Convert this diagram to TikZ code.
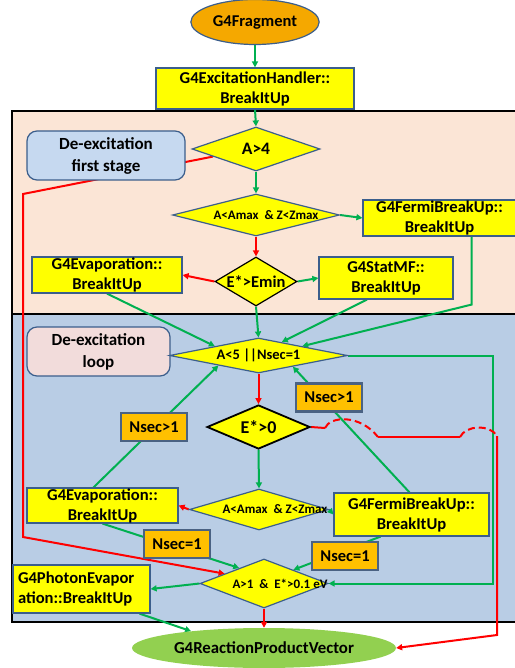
\documentclass[tikz,border=0pt]{standalone}
\usepackage{fontspec}
\setmainfont{Carlito}
\usetikzlibrary{shapes.geometric,arrows.meta}
\pgfdeclarelayer{back}
\pgfdeclarelayer{edges}
\pgfsetlayers{back,edges,main}
\definecolor{boxline}{HTML}{3B5E8C}
\definecolor{nsecline}{HTML}{4A6283}
\definecolor{boxyellow}{HTML}{FFFF00}
\definecolor{fragorange}{HTML}{F5A800}
\definecolor{nsecorange}{HTML}{FFC000}
\definecolor{peach}{HTML}{FBE5D6}
\definecolor{loopblue}{HTML}{B9CDE5}
\definecolor{stageblue}{HTML}{C6D9F0}
\definecolor{looppink}{HTML}{F2DCDB}
\definecolor{edgegreen}{HTML}{00B050}
\definecolor{edgered}{HTML}{FF0000}
\definecolor{rpvgreen}{HTML}{92D050}

\begin{document}
\begin{tikzpicture}[x=1pt,y=-1pt,>={Triangle[length=6pt,width=6pt]}]
  \tikzset{WH/.style 2 args={minimum width=#1pt,minimum height=#2pt}}
  \tikzset{FS/.style={font=\bfseries\fontsize{#1}{#1}\selectfont}}
  \tikzset{BoxStyle/.style={draw=boxline,line width=1.2pt,fill=boxyellow,inner sep=0pt,align=center,font=\bfseries\fontsize{16.6}{20}\selectfont}}
  \tikzset{DiaStyle/.style={diamond,draw=boxline,line width=1.2pt,fill=boxyellow,inner sep=0pt}}
  \tikzset{NsecStyle/.style={draw=nsecline,line width=2.4pt,fill=nsecorange,WH={66}{28},inner sep=0pt,FS=16.5}}
  \tikzset{NoteStyle/.style={rounded corners=10pt,draw=boxline,line width=1.2pt,align=center,font=\bfseries\fontsize{17}{22}\selectfont}}
  \tikzset{GreenEdge/.style={draw=edgegreen,line width=2pt}}
  \tikzset{RedEdge/.style={draw=edgered,line width=2pt}}
  \tikzset{HopEdge/.style={RedEdge,dash pattern=on 7pt off 4pt}}

  \useasboundingbox (0,0) rectangle (514,668);

  \node[ellipse,draw=boxline,line width=1.2pt,fill=fragorange,WH={127}{45},FS=16.5] (Frag) at (255,22) {G4Fragment};
  \node[BoxStyle,WH={198}{41}] (Handler) at (255,88.5) {G4ExcitationHandler::\\BreakItUp};
  \node[NoteStyle,fill=stageblue,WH={158}{49}] (StageOne) at (106,155.5) {De-excitation\\first stage};
  \node[DiaStyle,WH={128}{44},label={[FS=17.5]center:A>4}] (AgtFour) at (256,149) {};
  \node[DiaStyle,WH={167}{42},label={[FS=13,xshift=10pt]center:A<Amax \ \& Z<Zmax}] (ALtMax) at (256,215) {};
  \node[BoxStyle,WH={153}{36}] (Fermi1) at (439.5,218) {G4FermiBreakUp::\\BreakItUp};
  \node[DiaStyle,draw=black,WH={82}{49},label={[FS=16.5]center:E*>Emin}] (EStar) at (256,281.5) {};
  \node[BoxStyle,WH={150}{36}] (Evap1) at (107,275) {G4Evaporation::\\BreakItUp};
  \node[BoxStyle,WH={134}{42}] (StatMF) at (386,278) {G4StatMF::\\BreakItUp};

  \node[NoteStyle,fill=looppink,WH={143}{49}] (LoopBox) at (98.5,351.5) {De-excitation\\loop};
  \node[DiaStyle,WH={178}{35},label={[FS=14.5]center:A<5 ||Nsec=1}] (ALtFive) at (258.5,355.5) {};
  \node[DiaStyle,draw=black,line width=1.8pt,WH={103}{44},label={[FS=18]center:E*>0}] (EZero) at (258.5,427) {};
  \node[BoxStyle,WH={151}{35}] (Evap2) at (102.5,505.5) {G4Evaporation::\\BreakItUp};
  \node[DiaStyle,WH={139}{41},label={[FS=13,xshift=16pt]center:A<Amax \ \& Z<Zmax}] (ALtMax2) at (259,509.5) {};
  \node[BoxStyle,WH={155}{43}] (Fermi2) at (411.5,514.5) {G4FermiBreakUp::\\BreakItUp};
  \node[DiaStyle,WH={128}{49},label={[FS=13,xshift=16pt]center:A>1 \ \& \ E*>0.1 eV}] (AEv) at (264,583.5) {};
  \node[BoxStyle,WH={137}{48},text width=127pt,align=left] (Photon) at (81.5,589) {G4PhotonEvapor\\ation::BreakItUp};
  \node[ellipse,fill=rpvgreen,WH={195}{40},FS=16.8] (Rpv) at (264,648) {G4ReactionProductVector};

  \node[NsecStyle] (NsecA) at (154,427) {Nsec>1};
  \node[NsecStyle] (NsecB) at (329,397.5) {Nsec>1};
  \node[NsecStyle] (NsecC) at (177,544) {Nsec=1};
  \node[NsecStyle] (NsecD) at (345,556) {Nsec=1};

  \coordinate (R1) at (23,194);
  \coordinate (R2) at (23,537);
  \coordinate (J1) at (325,428);
  \coordinate (J2) at (378,437);
  \coordinate (J3) at (460,437);
  \coordinate (J4) at (497,436);
  \coordinate (R3) at (497,635);

  \begin{pgfonlayer}{back}
    \draw[line width=1.5pt,fill=peach] (12,111) rectangle (520,314);
    \draw[line width=1.5pt,fill=loopblue] (12,314) rectangle (520,622);
  \end{pgfonlayer}

  \begin{pgfonlayer}{edges}
    \draw[GreenEdge,->] (Frag.south) -- (Handler.north);
    \draw[GreenEdge,->] (Handler.south) -- (AgtFour.north);
    \draw[GreenEdge,->] (AgtFour.south) -- (ALtMax.north);
    \draw[GreenEdge,->] (ALtMax.east) -- (Fermi1.west);
    \draw[RedEdge,->] (ALtMax.south) -- (EStar.north);
    \draw[RedEdge,->] (EStar.west) -- (Evap1.east);
    \draw[GreenEdge,->] (EStar.east) -- (StatMF.west);
    \draw[GreenEdge,->] (Evap1.south) -- (ALtFive.168);
    \draw[GreenEdge,->] (EStar.south) -- (ALtFive.north);
    \draw[GreenEdge,->] ([xshift=-19pt]StatMF.south) -- (ALtFive.30);
    \draw[GreenEdge,->] ([xshift=32pt]Fermi1.south) -- ++(0,68) -- (ALtFive.12);
    \draw[GreenEdge,->] (ALtFive.east) -- ([xshift=145pt]ALtFive.east) |- (AEv.east);
    \draw[RedEdge,->] (ALtFive.south) -- (EZero.north);
    \draw[GreenEdge,->] (EZero.south) -- (ALtMax2.north);
    \draw[RedEdge,->] (ALtMax2.west) -- (Evap2.east);
    \draw[GreenEdge,->] (ALtMax2.east) -- (Fermi2.west);
    \draw[GreenEdge,->] ([xshift=-9pt]Evap2.north) -- (ALtFive.194);
    \draw[GreenEdge,->] ([xshift=-2pt]Fermi2.north) -- (ALtFive.342);
    \draw[GreenEdge,->] (Evap2.south) -- (AEv.148);
    \draw[GreenEdge,->] ([xshift=-31pt]Fermi2.south) -- (AEv.25);
    \draw[RedEdge,->] (AgtFour.190) -- (R1) -- (R2) -- (AEv.166);
    \draw[GreenEdge,->] (AEv.west) -- (Photon.east);
    \draw[GreenEdge,->] ([xshift=58pt]Photon.south) -- (Rpv.167);
    \draw[RedEdge,->] (AEv.south) -- (Rpv.north);
    \draw[RedEdge] (EZero.east) -- (J1);
    \draw[HopEdge] (J1) .. controls (330,416) and (360,414) .. (J2);
    \draw[RedEdge] (J2) -- (J3);
    \draw[HopEdge] (J3) .. controls (466,425) and (490,424) .. (J4);
    \draw[RedEdge,->] (J4) -- (R3) -- (Rpv.east);
  \end{pgfonlayer}
\end{tikzpicture}
\end{document}
